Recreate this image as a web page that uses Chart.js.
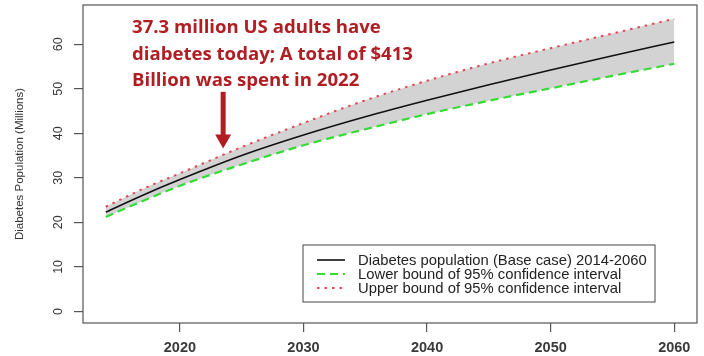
<!DOCTYPE html>
<html>
<head>
<meta charset="utf-8">
<script src="https://cdn.jsdelivr.net/npm/chart.js@4.4.0/dist/chart.umd.min.js"></script>
<style>
  html, body { margin: 0; padding: 0; background: #fff; }
  #wrap { width: 704px; height: 356px; }
</style>
</head>
<body>
<div id="wrap"><canvas id="diabetesChart" width="704" height="356"></canvas></div>
<script>
// Projected US diabetes population (millions)
const years = [2014, 2017, 2020, 2025, 2030, 2035, 2040, 2045, 2050, 2055, 2060];
const baseCase = [22.3, 26.1, 29.6, 35.0, 39.6, 43.7, 47.4, 50.9, 54.2, 57.4, 60.5];
const lowerBound = [21.2, 24.8, 28.2, 33.0, 37.3, 40.9, 44.3, 47.3, 50.1, 52.9, 55.6];
const upperBound = [23.5, 27.5, 31.0, 36.9, 42.3, 47.4, 51.8, 55.7, 59.1, 62.4, 65.7];

const xTicks = [2020, 2030, 2040, 2050, 2060];
const yTicks = [0, 10, 20, 30, 40, 50, 60];

const seriesLabels = [
    'Diabetes population (Base case) 2014-2060',
    'Lower bound of 95% confidence interval',
    'Upper bound of 95% confidence interval'
];
const noteLines = [
    '37.3 million US adults have',
    'diabetes today; A total of $413',
    'Billion was spent in 2022'
];
const noteYear = 2023.5;

const toPoints = vals => vals.map((v, i) => ({ x: years[i], y: v }));
const axisFont = '"Liberation Sans", Arial, sans-serif';
const noteRed = '#b01e24';

// frame box, rotated y labels, legend box and the red note
const decorations = {
    id: 'decorations',
    afterDraw(chart) {
        const { ctx, chartArea: a, scales } = chart;
        ctx.save();

        // plot frame
        ctx.strokeStyle = '#555';
        ctx.lineWidth = 1.2;
        ctx.strokeRect(a.left, a.top, a.right - a.left, a.bottom - a.top);

        // y tick labels, parallel to the axis like in R
        ctx.fillStyle = '#333';
        ctx.font = '12.5px ' + axisFont;
        ctx.textAlign = 'center';
        ctx.textBaseline = 'middle';
        yTicks.forEach(v => {
            const y = scales.y.getPixelForValue(v);
            ctx.save();
            ctx.translate(a.left - 24, y);
            ctx.rotate(-Math.PI / 2);
            ctx.fillText(String(v), 0, 0);
            ctx.restore();
        });

        // legend
        const lx = a.right - 394, ly = a.bottom - 78;
        const lw = 352, lh = 57;
        ctx.strokeStyle = '#444';
        ctx.lineWidth = 1;
        ctx.strokeRect(lx, ly, lw, lh);
        ctx.font = '14.8px ' + axisFont;
        ctx.textAlign = 'left';
        ctx.fillStyle = '#222';
        chart.data.datasets.forEach((ds, i) => {
            const ry = ly + 15 + i * 14;
            ctx.save();
            ctx.strokeStyle = ds.borderColor;
            ctx.lineWidth = ds.borderWidth;
            ctx.setLineDash(ds.borderDash || []);
            ctx.beginPath();
            ctx.moveTo(lx + 14, ry);
            ctx.lineTo(lx + 42, ry);
            ctx.stroke();
            ctx.restore();
            ctx.fillText(ds.label, lx + 55, ry + 1);
        });

        // note text and arrow
        ctx.fillStyle = noteRed;
        ctx.font = 'bold 18.6px "Open Sans", Lato, sans-serif';
        ctx.textBaseline = 'alphabetic';
        noteLines.forEach((t, i) => ctx.fillText(t, a.left + 49, a.top + 28 + i * 26.5));

        const ax = scales.x.getPixelForValue(noteYear);
        const tip = scales.y.getPixelForValue(36.6);
        const top = scales.y.getPixelForValue(49.3);
        ctx.fillRect(ax - 2.5, top, 5, tip - top - 12);
        ctx.beginPath();
        ctx.moveTo(ax - 8, tip - 14);
        ctx.lineTo(ax + 8, tip - 14);
        ctx.lineTo(ax, tip);
        ctx.closePath();
        ctx.fill();

        ctx.restore();
    }
};

const ctx = document.getElementById('diabetesChart').getContext('2d');
new Chart(ctx, {
    type: 'line',
    data: {
        datasets: [
            {
                label: seriesLabels[0],
                data: toPoints(baseCase),
                borderColor: '#111',
                borderWidth: 1.6,
                pointRadius: 0,
                cubicInterpolationMode: 'monotone',
                fill: false
            },
            {
                label: seriesLabels[1],
                data: toPoints(lowerBound),
                borderColor: '#33dd33',
                borderWidth: 2.2,
                borderDash: [8, 5],
                pointRadius: 0,
                cubicInterpolationMode: 'monotone',
                fill: false
            },
            {
                label: seriesLabels[2],
                data: toPoints(upperBound),
                borderColor: '#e04a55',
                borderWidth: 2,
                borderDash: [2.5, 5],
                pointRadius: 0,
                cubicInterpolationMode: 'monotone',
                fill: '-1',
                backgroundColor: '#d3d3d3'
            }
        ]
    },
    options: {
        responsive: false,
        animation: false,
        layout: { padding: { top: 5, right: 7, left: 0, bottom: 0 } },
        plugins: {
            legend: { display: false },
            tooltip: { enabled: false }
        },
        scales: {
            x: {
                type: 'linear',
                min: 2012.16,
                max: 2061.84,
                afterBuildTicks: s => { s.ticks = xTicks.map(v => ({ value: v })); },
                afterFit: s => { s.height = 33; },
                border: { display: false },
                grid: { drawOnChartArea: false, drawTicks: true, tickLength: 9, color: '#555', lineWidth: 1.2 },
                ticks: {
                    callback: v => String(v),
                    font: { family: axisFont, size: 14.5, weight: 'bold' },
                    color: '#3a3a3a',
                    padding: 7,
                    maxRotation: 0
                }
            },
            y: {
                min: -2.6,
                max: 68.8,
                afterBuildTicks: s => { s.ticks = yTicks.map(v => ({ value: v })); },
                afterFit: s => { s.width = 83; },
                border: { display: false },
                grid: { drawOnChartArea: false, drawTicks: true, tickLength: 9, color: '#555', lineWidth: 1.2 },
                ticks: { display: false },
                title: {
                    display: true,
                    text: 'Diabetes Population (Millions)',
                    font: { family: axisFont, size: 11.5 },
                    color: '#333',
                    padding: { top: 13, bottom: 0 }
                }
            }
        }
    },
    plugins: [decorations]
});
</script>
</body>
</html>
